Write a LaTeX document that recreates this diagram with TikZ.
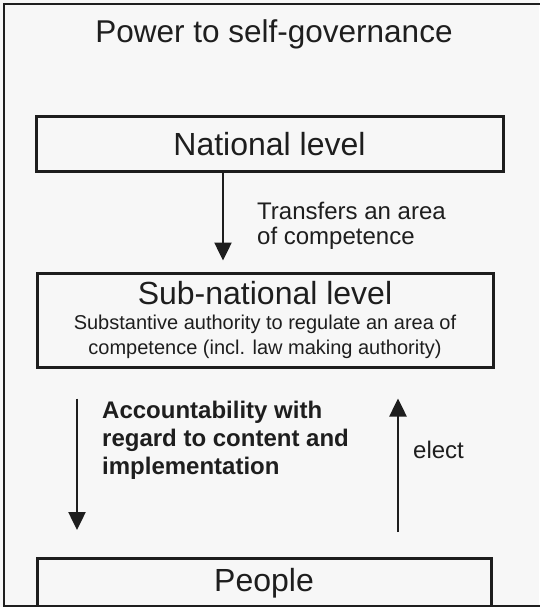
\documentclass[tikz,border=0pt]{standalone}
\usepackage{fontspec}
\setmainfont{Liberation Sans}
\usetikzlibrary{arrows.meta,positioning,calc}
\definecolor{bgray}{HTML}{F7F7F7}
\definecolor{ink}{HTML}{1E1E1E}
\tikzset{
  levelbox/.style={draw=ink, line width=3pt, inner sep=0pt, text=ink},
  arr/.style={draw=ink, line width=2.5pt, -{Triangle[length=18pt,width=17pt]}},
  lbl/.style={text=ink, align=left, inner sep=0pt, anchor=north west},
}
\begin{document}
\begin{tikzpicture}[x=1pt, y=-1pt]
  \useasboundingbox (0,0) rectangle (539,607);
  \fill[bgray] (0,0) rectangle (539,607);
  % outer frame, cut off at the right edge
  \draw[ink, line width=2pt] (4,4) rectangle (560,606);
  \node[text=ink, font=\fontsize{31.5}{36}\selectfont] (title) at (274,34) {Power to self-governance};
  % the three levels
  \node[levelbox, minimum width=467pt, minimum height=54pt, font=\fontsize{32}{36}\selectfont] (natl) at (269.5,144) {National level};
  \node[levelbox, minimum width=456pt, minimum height=94pt, align=center, font=\fontsize{20}{25}\selectfont] (sub) at (265,320)
    {{\fontsize{32}{34}\selectfont Sub-national level}\\
     Substantive authority to regulate an area of\\
     competence (incl. law making authority)};
  \node[levelbox, minimum width=454pt, minimum height=49pt, font=\fontsize{32}{36}\selectfont] (people) at (264,583) {People};
  % arrows
  \coordinate (tx) at (223,0);
  \coordinate (ax) at (77,0);
  \coordinate (ex) at (398,0);
  \draw[arr] (natl.south -| tx) -- ($(sub.north -| tx)+(0,-11)$);
  \draw[arr] ($(sub.south -| ax)+(0,30)$) -- ($(people.north -| ax)+(0,-27)$);
  \draw[arr] ($(people.north -| ex)+(0,-25)$) -- ($(sub.south -| ex)+(0,30)$);
  % labels
  \node[lbl, font=\fontsize{24}{25}\selectfont] (transfer) at (257,202) {Transfers an area\\of competence};
  \node[lbl, font=\bfseries\fontsize{24}{28}\selectfont] (account) at (102,401) {Accountability with\\regard to content and\\implementation};
  \node[lbl, anchor=west, font=\fontsize{24}{28}\selectfont] (elect) at (413,450) {elect};
\end{tikzpicture}
\end{document}
